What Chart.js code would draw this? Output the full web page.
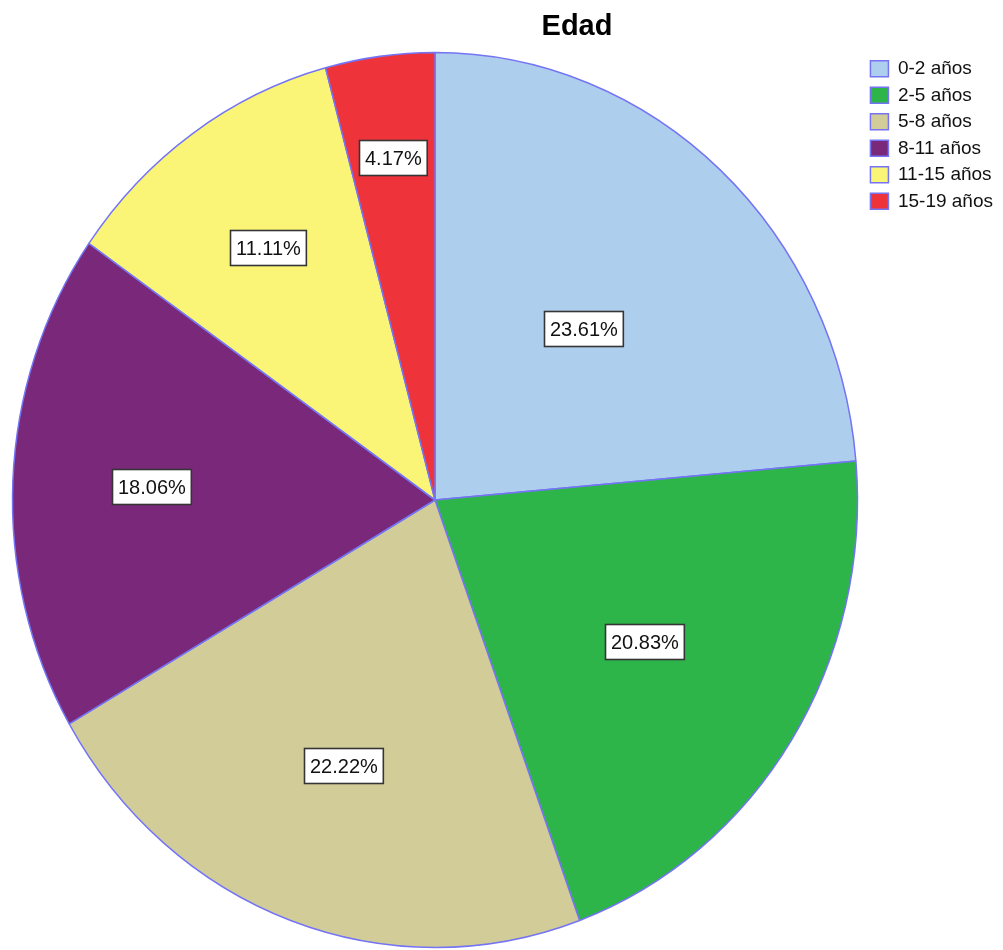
<!DOCTYPE html>
<html>
<head>
<meta charset="utf-8">
<script src="https://cdn.jsdelivr.net/npm/chart.js@4/dist/chart.umd.min.js"></script>
<style>
html,body{margin:0;padding:0;background:#ffffff;}
#wrap{width:1003px;height:950px;position:relative;}
canvas{display:block;}
</style>
</head>
<body>
<div id="wrap"><canvas id="c" width="1003" height="950"></canvas></div>
<script>
// ---- data ----
const chartTitle = 'Edad';
const categories = ['0-2 años', '2-5 años', '5-8 años', '8-11 años', '11-15 años', '15-19 años'];
const percentages = [23.61, 20.83, 22.22, 18.06, 11.11, 4.17];
const sliceColors = ['#AECEED', '#2EB54A', '#D2CD98', '#7A287A', '#FBF577', '#EE333B'];

// ---- plugins ----
const ellipsePlugin = {
  id: 'ellipse',
  beforeDatasetsDraw(chart, args, opts) {
    const arc = chart.getDatasetMeta(0).data[0];
    const ctx = chart.ctx;
    ctx.save();
    ctx.translate(opts.cx, opts.cy);
    ctx.scale(1, opts.sy);
    ctx.translate(-arc.x, -arc.y);
  },
  afterDatasetsDraw(chart) {
    chart.ctx.restore();
  }
};

const boxLabelPlugin = {
  id: 'boxLabels',
  afterDraw(chart, args, opts) {
    const ctx = chart.ctx;
    const e = chart.options.plugins.ellipse;
    const meta = chart.getDatasetMeta(0);
    const values = chart.data.datasets[0].data;
    ctx.save();
    ctx.font = opts.font;
    ctx.textAlign = 'center';
    ctx.textBaseline = 'middle';
    meta.data.forEach((arc, i) => {
      const mid = (arc.startAngle + arc.endAngle) / 2;
      const r = arc.outerRadius * opts.radiusFrac[i];
      const x = e.cx + Math.cos(mid) * r;
      const y = e.cy + Math.sin(mid) * r * e.sy;
      const text = values[i].toFixed(2) + '%';
      const w = ctx.measureText(text).width + opts.padX * 2;
      const h = opts.boxH;
      const bx = Math.round(x - w / 2) + 0.5, by = Math.round(y - h / 2) + 0.5;
      ctx.fillStyle = '#ffffff';
      ctx.fillRect(bx, by, w, h);
      ctx.lineWidth = 1.6;
      ctx.strokeStyle = '#353535';
      ctx.strokeRect(bx, by, w, h);
      ctx.fillStyle = '#111111';
      ctx.fillText(text, bx + w / 2, by + h / 2 + 1);
    });
    ctx.restore();
  }
};

new Chart(document.getElementById('c'), {
  type: 'pie',
  data: {
    labels: categories,
    datasets: [{
      data: percentages,
      backgroundColor: sliceColors,
      borderColor: '#7474F4',
      borderWidth: 1.5,
      hoverOffset: 0,
      radius: 422.5,
      clip: false
    }]
  },
  options: {
    responsive: false,
    animation: false,
    devicePixelRatio: 1,
    events: [],
    layout: { padding: { left: 151, right: 0, top: 0, bottom: 0 } },
    plugins: {
      title: {
        display: true,
        text: chartTitle,
        color: '#000000',
        font: { family: "'Liberation Sans', Arial, sans-serif", size: 29, weight: 'bold' },
        padding: { top: 10, bottom: 7 }
      },
      legend: {
        display: true,
        position: 'right',
        align: 'start',
        fullSize: false,
        labels: {
          color: '#111111',
          font: { family: "'Liberation Sans', Arial, sans-serif", size: 19 },
          boxWidth: 18,
          boxHeight: 16,
          padding: 7.5
        }
      },
      tooltip: { enabled: false },
      ellipse: { cx: 435, cy: 500, sy: 1.059 },
      boxLabels: {
        font: "20px 'Liberation Sans', Arial, sans-serif",
        padX: 5.5,
        boxH: 35,
        radiusFrac: [0.519, 0.589, 0.631, 0.671, 0.69, 0.771]
      }
    }
  },
  plugins: [ellipsePlugin, boxLabelPlugin]
});
</script>
</body>
</html>
